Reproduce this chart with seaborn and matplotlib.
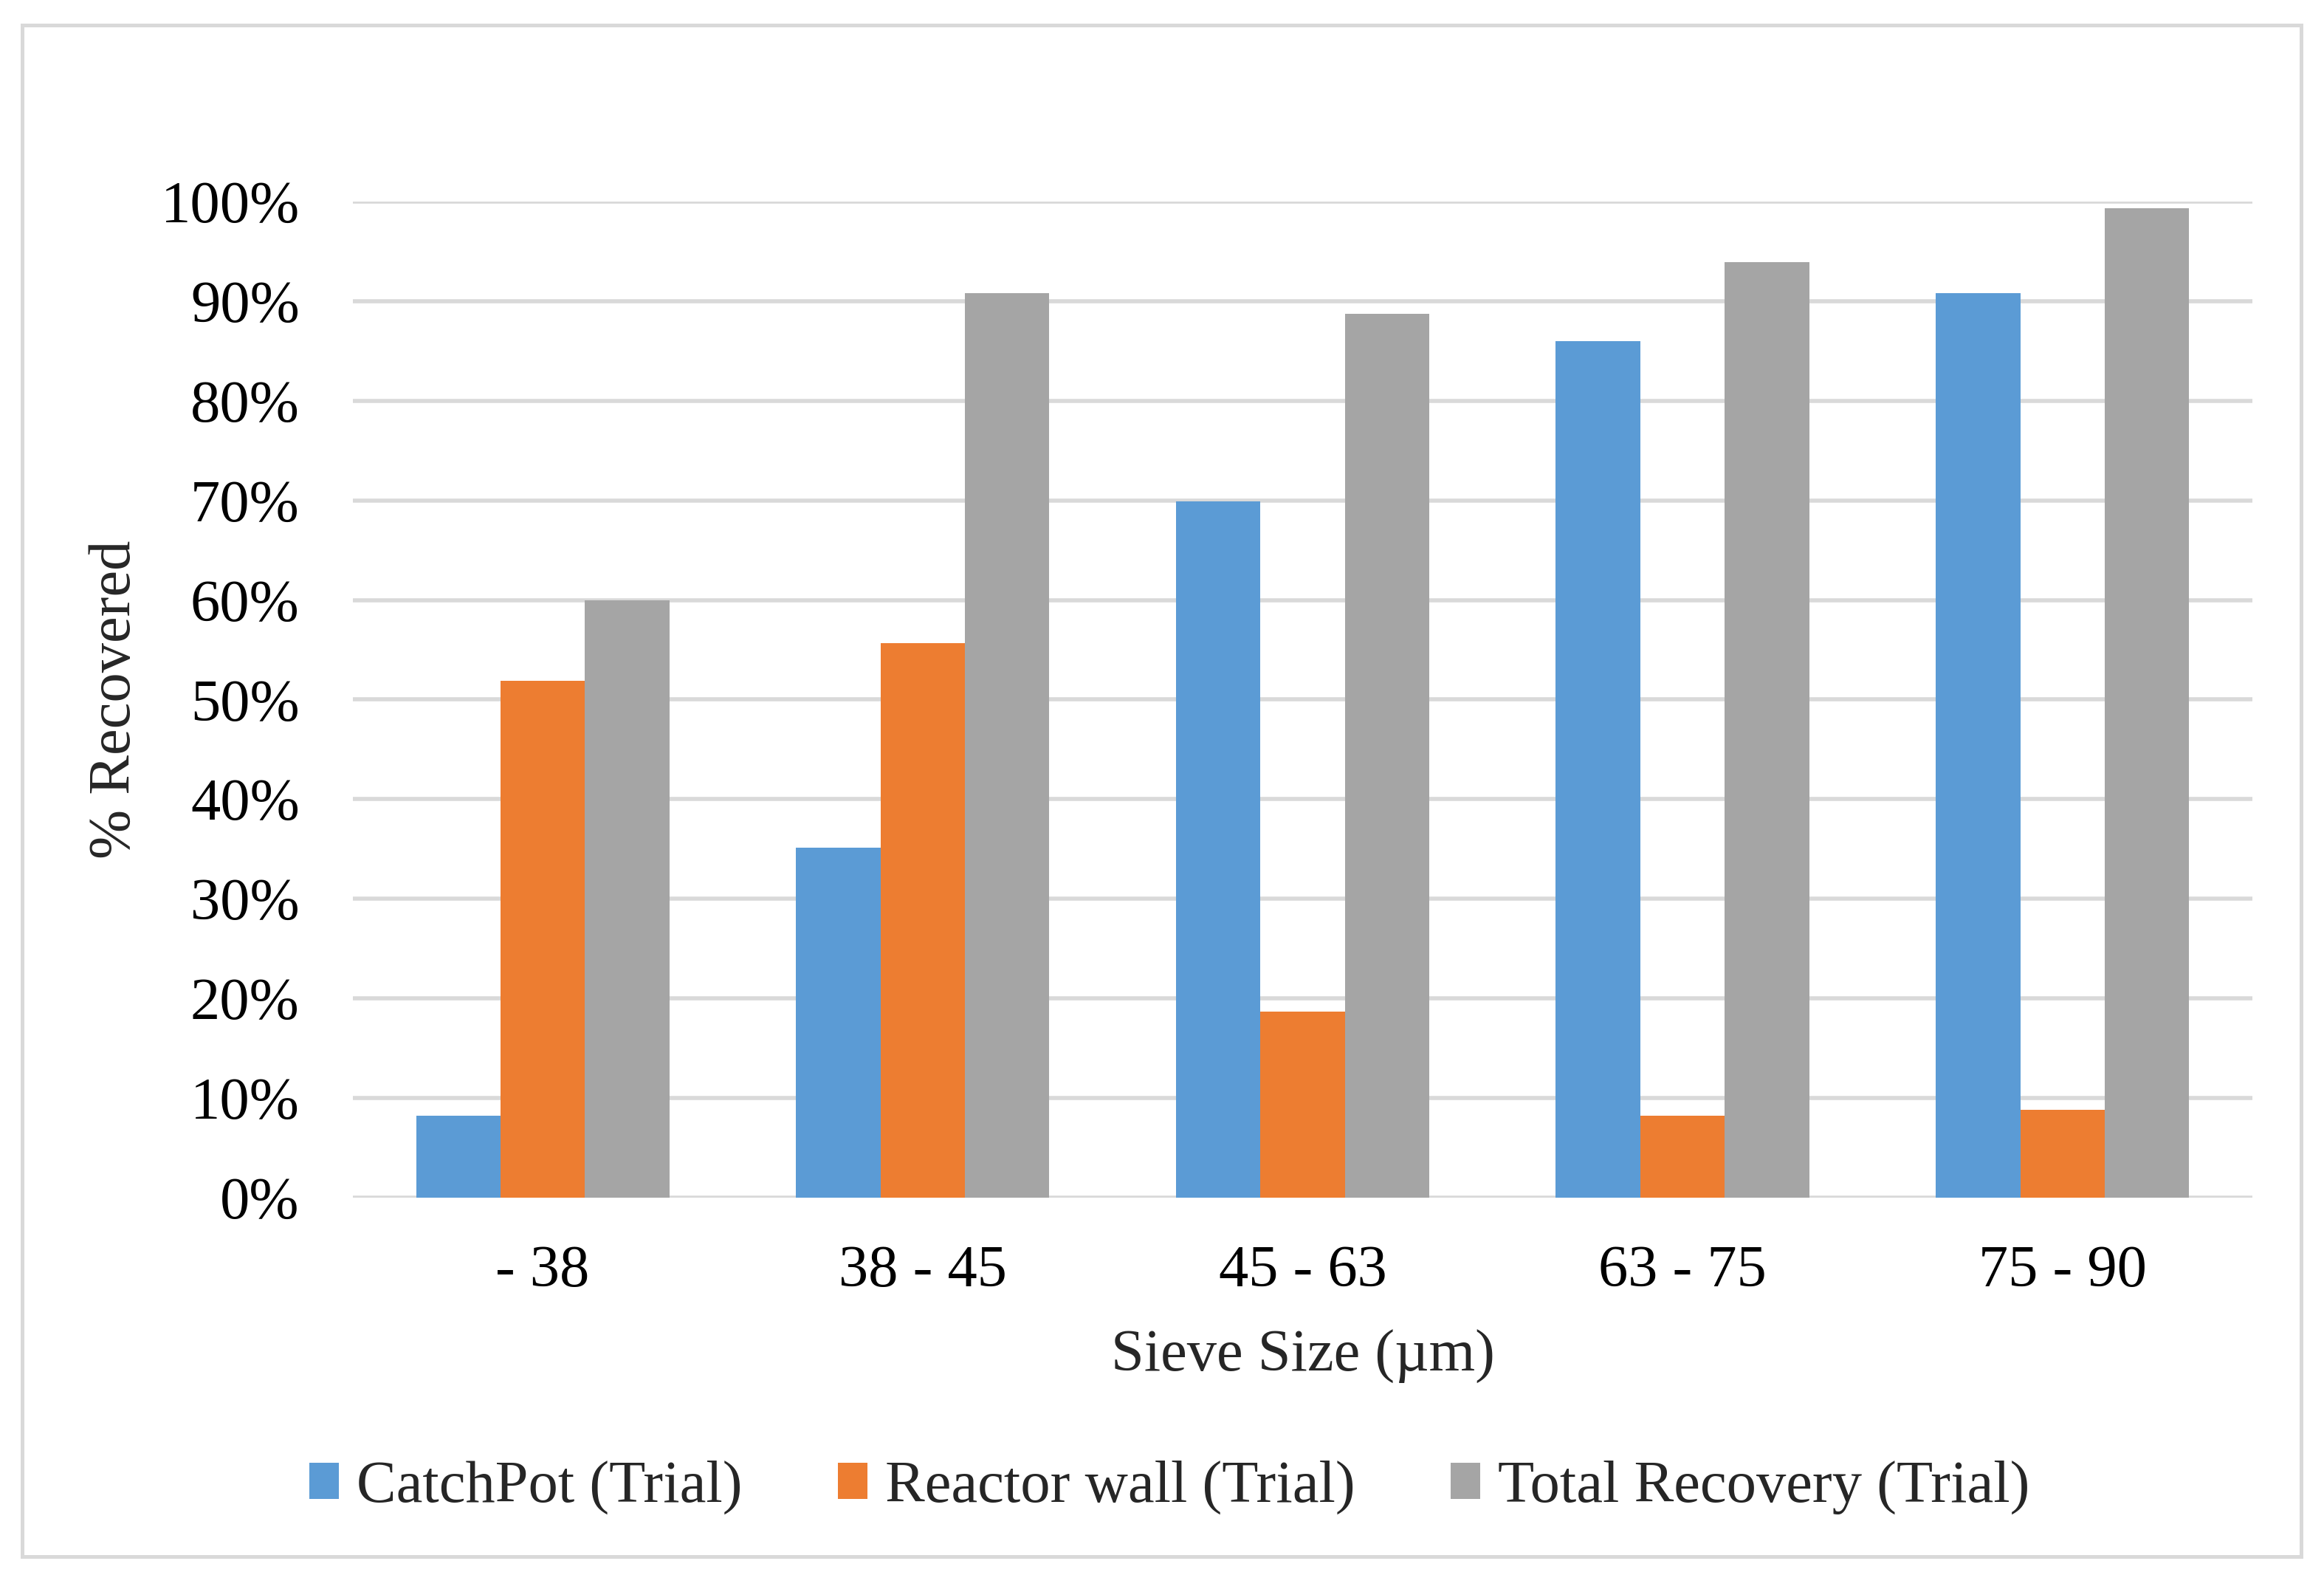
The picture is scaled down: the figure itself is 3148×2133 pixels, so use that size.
import matplotlib
matplotlib.use("Agg")
import matplotlib.pyplot as plt
from matplotlib.patches import Rectangle
from matplotlib.ticker import FuncFormatter
import seaborn as sns
import pandas as pd

# sieve fractions and recovery values (%)
sieve_sizes = ['- 38', '38 - 45', '45 - 63', '63 - 75', '75 - 90']
catchpot = [8.2, 35.1, 69.9, 86.0, 90.8]
reactor_wall = [51.9, 55.7, 18.7, 8.2, 8.8]
total_recovery = [60.0, 90.8, 88.7, 93.9, 99.3]
series_names = ['CatchPot (Trial)', 'Reactor wall (Trial)', 'Total Recovery (Trial)']

# long table for seaborn
df = pd.DataFrame({
    'sieve': sieve_sizes * 3,
    'series': [series_names[0]] * 5 + [series_names[1]] * 5 + [series_names[2]] * 5,
    'value': catchpot + reactor_wall + total_recovery,
})

sns.set_theme(style='white')
plt.rcParams['font.family'] = ['Liberation Serif', 'DejaVu Serif']

fig = plt.figure(figsize=(15.74, 10.665), dpi=200)
ax = fig.add_axes([0.1518, 0.2396, 0.8174, 0.6324])

palette = ['#5B9BD5', '#ED7D31', '#A5A5A5']
sns.barplot(data=df, x='sieve', y='value', hue='series', palette=palette,
            width=0.667, gap=0, saturation=1, ax=ax, zorder=3, linewidth=0)

ax.set_ylim(0, 100)
ax.set_xlim(-0.5, 4.5)
ax.set_yticks(range(0, 101, 10))
ax.yaxis.set_major_formatter(FuncFormatter(lambda v, p: '%d%%' % v))
ax.grid(axis='y', color='#D9D9D9', linewidth=2.0, zorder=0)
ax.grid(axis='x', visible=False)
for s in ax.spines.values():
    s.set_visible(False)
ax.tick_params(axis='both', length=0, labelsize=29, colors='black')
ax.tick_params(axis='y', pad=26)
ax.tick_params(axis='x', pad=23)

ax.set_xlabel('Sieve Size (µm)', fontsize=29, labelpad=15)
ax.set_ylabel('% Recovered', fontsize=29, labelpad=9)

ax.legend(loc='center', bbox_to_anchor=(0.43, -0.291), ncol=3, frameon=False,
          fontsize=29, handlelength=0.5, handleheight=0.55, handletextpad=0.3,
          columnspacing=1.6)

# light grey frame around the whole chart
fig.patches.append(Rectangle((0.0095, 0.0117), 0.9806, 0.9723, transform=fig.transFigure,
                             fill=False, edgecolor='#D9D9D9', linewidth=1.8))

fig.savefig('out.png', dpi=200, facecolor='white')
